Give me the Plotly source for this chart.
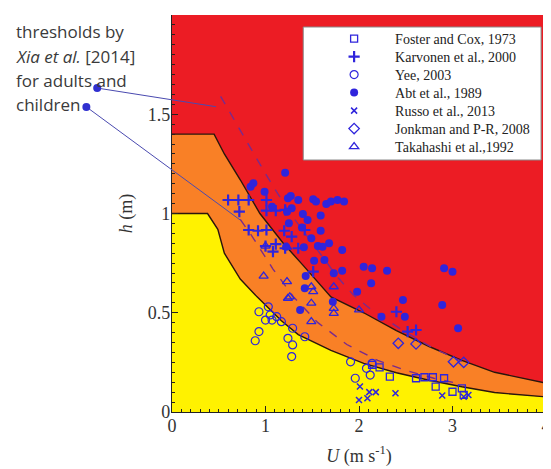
import plotly.graph_objects as go

# ---------------- data ----------------
# hazard zone boundaries (U in m/s, h in m)
lower_u = [0, 0.38, 0.49, 0.56, 0.73, 0.91, 1.17, 1.35, 1.70, 2.05, 2.40, 2.75, 3.10, 3.45, 4.0]
lower_h = [1.0, 1.0, 0.92, 0.80, 0.67, 0.58, 0.46, 0.39, 0.31, 0.245, 0.198, 0.16, 0.127, 0.098, 0.076]
upper_u = [0, 0.45, 0.56, 0.73, 0.94, 1.19, 1.40, 1.70, 2.05, 2.40, 2.75, 3.10, 3.45, 4.0]
upper_h = [1.4, 1.4, 1.30, 1.17, 1.00, 0.85, 0.74, 0.58, 0.50, 0.41, 0.33, 0.26, 0.20, 0.145]

# Xia et al. [2014] thresholds (dashed)
adult_u = [0.52, 0.80, 1.00, 1.25, 1.50, 1.77, 1.94, 2.12, 2.47, 2.80, 3.10]
adult_h = [1.59, 1.36, 1.20, 1.01, 0.85, 0.68, 0.59, 0.52, 0.41, 0.32, 0.255]
child_u = [0.73, 0.85, 1.08, 1.30, 1.56, 1.87, 2.20, 2.50, 2.80, 3.10]
child_h = [0.97, 0.89, 0.72, 0.58, 0.45, 0.34, 0.26, 0.21, 0.17, 0.14]

# annotation anchor points (U, h); the text dots lie left of the axis
adult_dot = (-0.80, 1.632)
adult_end = (0.47, 1.538)
child_dot = (-0.916, 1.537)
child_end = (0.73, 0.967)

foster_u = [2.14, 2.22, 2.33, 2.61, 2.70, 2.79, 2.91, 2.82, 3.00, 3.10, 3.12]
foster_h = [0.237, 0.225, 0.178, 0.17, 0.175, 0.175, 0.17, 0.128, 0.102, 0.119, 0.086]

karv_u = [0.60, 0.71, 0.82, 1.01, 0.72, 1.01, 1.11, 1.21, 0.82, 0.92, 1.01, 1.20, 1.00, 1.11,
          1.08, 1.21, 1.35, 1.51, 1.42, 1.28, 2.40, 2.52, 2.61]
karv_h = [1.068, 1.068, 1.068, 1.068, 1.009, 1.014, 1.014, 1.018, 0.917, 0.913, 0.917, 0.913,
          0.836, 0.846, 0.808, 0.825, 0.825, 0.707, 0.917, 0.883, 0.505, 0.405, 0.413]

yee_u = [0.93, 1.03, 1.05, 1.12, 1.00, 1.07, 1.17, 0.93, 0.89, 1.29, 1.24, 1.29, 1.42, 1.28,
         1.91, 1.96, 2.08, 2.12, 2.14]
yee_h = [0.505, 0.53, 0.489, 0.48, 0.463, 0.463, 0.455, 0.405, 0.359, 0.422, 0.371, 0.338,
         0.379, 0.279, 0.253, 0.17, 0.22, 0.186, 0.245]

abt_u = [1.21, 0.84, 0.87, 0.99, 1.24, 1.27, 1.35, 1.51, 1.54, 1.65, 1.70, 1.77, 1.84, 1.07,
         1.28, 1.23, 1.40, 1.45, 1.25, 1.39, 1.59, 1.49, 1.68, 1.82, 1.22, 1.41, 1.56, 1.61,
         1.52, 1.63, 1.73, 1.82, 2.05, 2.14, 2.13, 1.43, 1.98, 1.72, 2.47, 2.49, 2.24, 2.91,
         3.00, 2.89, 3.06, 2.30, 1.42, 1.59, 1.37]
abt_h = [1.205, 1.135, 1.152, 1.11, 1.077, 1.088, 1.068, 1.072, 1.06, 1.048, 1.06, 1.068, 1.06,
         1.034, 1.026, 1.009, 0.997, 0.967, 0.951, 0.93, 0.913, 0.875, 0.85, 0.816, 0.833, 0.83,
         0.836, 0.833, 0.762, 0.766, 0.699, 0.712, 0.732, 0.724, 0.648, 0.685, 0.606, 0.556,
         0.564, 0.48, 0.48, 0.724, 0.707, 0.539, 0.422, 0.712, 0.623, 0.99, 0.514]

russo_u = [2.01, 2.00, 2.09, 2.11, 2.18, 2.39, 2.89, 3.12, 3.17]
russo_h = [0.128, 0.06, 0.069, 0.100, 0.100, 0.094, 0.083, 0.077, 0.086]

jonk_u = [2.42, 2.61, 3.01, 3.12]
jonk_h = [0.346, 0.343, 0.253, 0.25]

taka_u = [0.98, 1.23, 1.49, 1.51, 1.73, 1.24, 1.49, 1.49, 1.73, 1.73, 2.00, 1.00, 1.23, 1.26]
taka_h = [0.685, 0.657, 0.631, 0.606, 0.631, 0.573, 0.548, 0.455, 0.522, 0.497, 0.514, 0.836,
          0.831, 0.58]

x_ticks = [0, 1, 2, 3, 4]
y_ticks = [0, 0.5, 1, 1.5, 2]
y_tick_text = ["0", "0.5", "1", "1.5", "2"]

# ---------------- style / layout geometry ----------------
XR = [0, 4.0]
YR = [0, 2.0]
BLUE = "#2f24dc"
YELLOW = "#fff200"
ORANGE = "#f98026"
RED = "#ec1c24"
EDGE = "#2a160c"
DASH = "#7a2a8c"
SERIF = "Liberation Serif, Times New Roman, serif"

# the page body has an 8px margin; plot area on screen: x 172..551, y 15..412
PL, PR, PT, PB = 172, 551, 15, 412
OFF = 8


def sx(px):
    return (px - PL) / (PR - PL)


def sy(py):
    return (PB - py) / (PB - PT)


fig = go.Figure()

fig.add_trace(go.Scatter(x=lower_u, y=lower_h, mode="lines", fill="tozeroy",
                         fillcolor=YELLOW, line=dict(color=EDGE, width=1.4),
                         showlegend=False, hoverinfo="skip"))
fig.add_trace(go.Scatter(x=upper_u, y=upper_h, mode="lines", fill="tonexty",
                         fillcolor=ORANGE, line=dict(color=EDGE, width=1.4),
                         showlegend=False, hoverinfo="skip"))
fig.add_trace(go.Scatter(x=adult_u, y=adult_h, mode="lines",
                         line=dict(color=DASH, width=1.4, dash="dash"),
                         showlegend=False, hoverinfo="skip"))
fig.add_trace(go.Scatter(x=child_u, y=child_h, mode="lines",
                         line=dict(color=DASH, width=1.4, dash="dash"),
                         showlegend=False, hoverinfo="skip"))

series = [
    ("Foster and Cox, 1973", foster_u, foster_h, "square-open", 7, 1.3),
    ("Karvonen et al., 2000", karv_u, karv_h, "cross-thin", 8, 2.2),
    ("Yee, 2003", yee_u, yee_h, "circle-open", 8, 1.2),
    ("Abt et al., 1989", abt_u, abt_h, "circle", 8, 0),
    ("Russo et al., 2013", russo_u, russo_h, "x-thin", 6, 1.5),
    ("Jonkman and P-R, 2008", jonk_u, jonk_h, "diamond-open", 8, 1.3),
    ("Takahashi et al.,1992", taka_u, taka_h, "triangle-up-open", 8, 1.3),
]
legend_layouts = {}
for i, (name, xs, ys, sym, size, lw) in enumerate(series):
    lname = "legend" if i == 0 else f"legend{i + 1}"
    fig.add_trace(go.Scatter(x=xs, y=ys, mode="markers", name=name, legend=lname,
                             marker=dict(symbol=sym, size=size, color=BLUE,
                                         line=dict(color=BLUE, width=lw))))
    row_y = 39 + 18 * i
    legend_layouts[lname] = dict(
        x=sx(315), y=sy(row_y), xanchor="left", yanchor="middle",
        bgcolor="rgba(0,0,0,0)", borderwidth=0, itemwidth=72,
        font=dict(family=SERIF, size=14, color="#222"))

# legend frame
shapes = [dict(type="rect", xref="paper", yref="paper", layer="above",
               x0=sx(305), x1=sx(546), y0=sy(160), y1=sy(27),
               fillcolor="white", line=dict(color="#8a8a8a", width=1))]


def to_paper(pt):
    u, h = pt
    return ((u - XR[0]) / (XR[1] - XR[0]), (h - YR[0]) / (YR[1] - YR[0]))


for dot, end in [(adult_dot, adult_end), (child_dot, child_end)]:
    p0 = to_paper(dot)
    p1 = to_paper(end)
    shapes.append(dict(type="line", xref="paper", yref="paper", x0=p0[0], y0=p0[1], x1=p1[0], y1=p1[1],
                       line=dict(color="#4a4ab0", width=1)))
    shapes.append(dict(type="circle", xref="paper", yref="paper", xsizemode="pixel", ysizemode="pixel",
                       xanchor=p0[0], yanchor=p0[1], x0=-4, x1=4, y0=-4, y1=4,
                       fillcolor="#3030d0", line=dict(color="#3030d0", width=0)))

annots = []
text_lines = ["thresholds by", "<i>Xia et al.</i> [2014]", "for adults and", "children"]
line_y = [31, 56, 80, 104]
for t, yy in zip(text_lines, line_y):
    annots.append(dict(text=t, xref="paper", yref="paper", x=sx(12), y=sy(yy),
                       xanchor="left", yanchor="middle", showarrow=False,
                       font=dict(family="Open Sans, sans-serif", size=17, color="#3a3a3a")))

fig.update_layout(
    width=551 - OFF, height=469 - OFF,
    margin=dict(l=PL - OFF, r=0, t=PT - OFF, b=469 - PB),
    paper_bgcolor="white", plot_bgcolor=RED,
    showlegend=True,
    shapes=shapes, annotations=annots,
    xaxis=dict(range=XR, tickvals=x_ticks, showgrid=False, zeroline=False,
               showline=True, linecolor="#222", linewidth=1.2,
               ticks="inside", ticklen=6, tickcolor="#222", ticklabelstandoff=-3,
               ticklabeloverflow="allow",
               minor=dict(dtick=0.1, ticks="inside", ticklen=3, tickcolor="#222", showgrid=False),
               tickfont=dict(family=SERIF, size=18, color="#333"),
               title=dict(text="<i>U</i> (m s<sup>-1</sup>)", font=dict(family=SERIF, size=18, color="#333"),
                          standoff=14)),
    yaxis=dict(range=YR, tickvals=y_ticks, ticktext=y_tick_text, showgrid=False, zeroline=False,
               showline=True, linecolor="#222", linewidth=1.2,
               ticks="inside", ticklen=6, tickcolor="#222", ticklabelstandoff=-3,
               minor=dict(dtick=0.05, ticks="inside", ticklen=3, tickcolor="#222", showgrid=False),
               tickfont=dict(family=SERIF, size=18, color="#333"),
               title=dict(text="<i>h</i> (m)", font=dict(family=SERIF, size=18, color="#333"),
                          standoff=10)),
    **legend_layouts,
)

fig.write_html("out.html")
